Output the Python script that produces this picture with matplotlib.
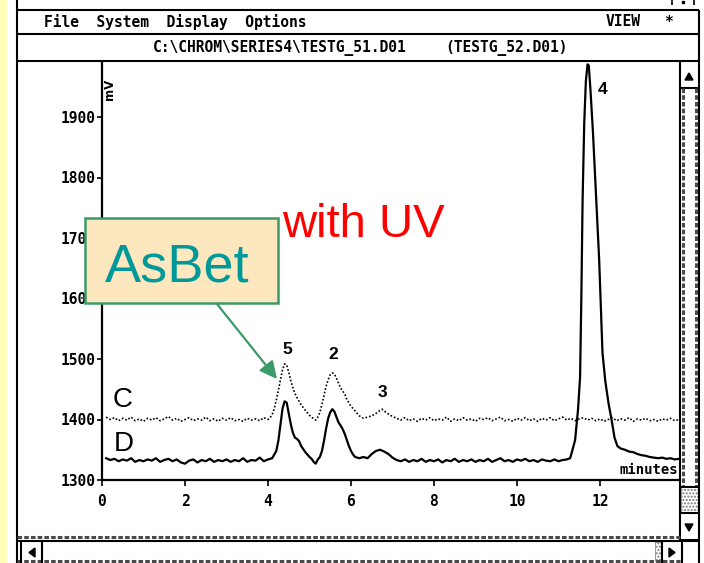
import matplotlib.pyplot as plt
from matplotlib.patches import Rectangle, Polygon, FancyArrowPatch

# ---------------- data ----------------
c_time = [0.10, 0.20, 0.30, 0.40, 0.50, 0.60, 0.70, 0.80, 0.90, 1.00,
          1.10, 1.20, 1.30, 1.40, 1.50, 1.60, 1.70, 1.80, 1.90, 2.00,
          2.10, 2.20, 2.30, 2.40, 2.50, 2.60, 2.70, 2.80, 2.90, 3.00,
          3.10, 3.20, 3.30, 3.40, 3.50, 3.60, 3.70, 3.80, 3.90, 4.00,
          4.05, 4.10, 4.15, 4.20, 4.25, 4.30, 4.35, 4.40, 4.45, 4.50,
          4.55, 4.60, 4.65, 4.70, 4.80, 4.90, 5.00, 5.10, 5.15, 5.20,
          5.25, 5.30, 5.35, 5.40, 5.45, 5.50, 5.55, 5.60, 5.65, 5.70,
          5.75, 5.80, 5.85, 5.90, 6.00, 6.10, 6.20, 6.30, 6.40, 6.50,
          6.60, 6.70, 6.75, 6.80, 6.90, 7.00, 7.10, 7.20, 7.30, 7.40,
          7.50, 7.60, 7.70, 7.80, 7.90, 8.00, 8.10, 8.20, 8.30, 8.40,
          8.50, 8.60, 8.70, 8.80, 8.90, 9.00, 9.10, 9.20, 9.30, 9.40,
          9.50, 9.60, 9.70, 9.80, 9.90, 10.00, 10.10, 10.20, 10.30, 10.40,
          10.50, 10.60, 10.70, 10.80, 10.90, 11.00, 11.10, 11.20, 11.30, 11.40,
          11.50, 11.60, 11.70, 11.80, 11.90, 12.00, 12.10, 12.20, 12.30, 12.40,
          12.50, 12.60, 12.70, 12.80, 12.90, 13.00, 13.10, 13.20, 13.30, 13.40,
          13.50, 13.60, 13.70, 13.80, 13.90]
c_mv = [1404, 1400, 1403, 1398, 1402, 1399, 1404, 1398, 1401, 1397,
        1402, 1399, 1403, 1398, 1401, 1405, 1399, 1402, 1397, 1400,
        1403, 1398, 1401, 1399, 1404, 1398, 1401, 1397, 1402, 1399,
        1403, 1398, 1400, 1397, 1402, 1399, 1401, 1398, 1403, 1400,
        1403, 1408, 1418, 1432, 1448, 1466, 1482, 1492, 1490, 1478,
        1464, 1452, 1443, 1436, 1424, 1415, 1407, 1401, 1399, 1404,
        1412, 1425, 1440, 1455, 1466, 1474, 1477, 1475, 1468, 1460,
        1452, 1447, 1442, 1433, 1422, 1414, 1406, 1402, 1404, 1406,
        1410, 1415, 1417, 1414, 1409, 1405, 1402, 1399, 1403, 1398,
        1401, 1397, 1402, 1399, 1403, 1398, 1401, 1399, 1404, 1397,
        1401, 1398, 1403, 1399, 1401, 1397, 1402, 1400, 1403, 1398,
        1401, 1404, 1398, 1400, 1397, 1402, 1399, 1403, 1398, 1401,
        1397, 1402, 1399, 1403, 1398, 1401, 1404, 1399, 1402, 1398,
        1401, 1403, 1399, 1402, 1398, 1401, 1397, 1400, 1403, 1398,
        1401, 1399, 1403, 1397, 1401, 1399, 1402, 1398, 1400, 1397,
        1401, 1399, 1402, 1398, 1400]

d_time = [0.10, 0.20, 0.30, 0.40, 0.50, 0.60, 0.70, 0.80, 0.90, 1.00,
          1.10, 1.20, 1.30, 1.40, 1.50, 1.60, 1.70, 1.80, 1.90, 2.00,
          2.10, 2.20, 2.30, 2.40, 2.50, 2.60, 2.70, 2.80, 2.90, 3.00,
          3.10, 3.20, 3.30, 3.40, 3.50, 3.60, 3.70, 3.80, 3.90, 4.00,
          4.10, 4.20, 4.25, 4.30, 4.35, 4.40, 4.45, 4.50, 4.55, 4.60,
          4.65, 4.70, 4.75, 4.80, 4.90, 5.00, 5.05, 5.10, 5.15, 5.20,
          5.25, 5.30, 5.35, 5.40, 5.45, 5.50, 5.55, 5.60, 5.65, 5.70,
          5.75, 5.80, 5.85, 5.90, 5.95, 6.00, 6.05, 6.10, 6.20, 6.30,
          6.40, 6.50, 6.60, 6.70, 6.80, 6.90, 7.00, 7.10, 7.20, 7.30,
          7.40, 7.50, 7.60, 7.70, 7.80, 7.90, 8.00, 8.10, 8.20, 8.30,
          8.40, 8.50, 8.60, 8.70, 8.80, 8.90, 9.00, 9.10, 9.20, 9.30,
          9.40, 9.50, 9.60, 9.70, 9.80, 9.90, 10.00, 10.10, 10.20, 10.30,
          10.40, 10.50, 10.60, 10.70, 10.80, 10.90, 11.00, 11.10, 11.20, 11.28,
          11.33, 11.40, 11.47, 11.52, 11.55, 11.58, 11.62, 11.66, 11.70, 11.73,
          11.77, 11.83, 11.90, 11.98, 12.06, 12.13, 12.21, 12.29, 12.35, 12.42,
          12.50, 12.60, 12.70, 12.80, 12.90, 13.00, 13.10, 13.20, 13.30, 13.40,
          13.50, 13.60, 13.70, 13.80, 13.90]
d_mv = [1336, 1333, 1335, 1331, 1334, 1332, 1336, 1330, 1333, 1331,
        1334, 1332, 1336, 1330, 1333, 1335, 1331, 1334, 1329, 1327,
        1332, 1334, 1329, 1333, 1331, 1335, 1330, 1333, 1331, 1334,
        1330, 1333, 1331, 1336, 1330, 1333, 1332, 1337, 1331, 1334,
        1336, 1348, 1365, 1392, 1418, 1430, 1428, 1410, 1392, 1378,
        1370, 1368, 1364, 1356, 1346, 1338, 1335, 1330, 1327, 1334,
        1338, 1348, 1365, 1385, 1402, 1412, 1417, 1413, 1404, 1395,
        1390, 1384, 1376, 1366, 1356, 1348, 1342, 1338, 1336, 1338,
        1336, 1343, 1348, 1350, 1347, 1343, 1337, 1333, 1331, 1334,
        1330, 1333, 1331, 1335, 1330, 1333, 1331, 1334, 1329, 1333,
        1331, 1335, 1330, 1333, 1331, 1334, 1330, 1333, 1331, 1335,
        1330, 1333, 1336, 1331, 1333, 1330, 1334, 1332, 1335, 1331,
        1333, 1330, 1334, 1332, 1331, 1334, 1331, 1333, 1334, 1336,
        1348, 1366, 1416, 1470, 1600, 1760, 1890, 1960, 1987, 1985,
        1945, 1875, 1778, 1664, 1510, 1462, 1425, 1395, 1370, 1356,
        1352, 1350, 1347, 1346, 1343, 1341, 1340, 1338, 1337, 1336,
        1337, 1335, 1336, 1334, 1335]

x_ticks = [0, 2, 4, 6, 8, 10, 12]
y_ticks = [1300, 1400, 1500, 1600, 1700, 1800, 1900]
peak_names = ['5', '2', '3', '4']
peak_time = [4.46, 5.57, 6.75, 12.05]
peak_mv = [1516, 1507, 1445, 1945]
#-----------------------------

W, H = 704, 563
mono = 'DejaVu Sans Mono'
sans = 'Liberation Sans'
grey = '#4a4a4a'

fig = plt.figure(figsize=(W / 100, H / 100), dpi=100)
fig.patch.set_facecolor('white')

# window chrome, drawn in pixel coordinates
bg = fig.add_axes([0, 0, 1, 1], zorder=0)
bg.set_xlim(0, W)
bg.set_ylim(H, 0)
bg.axis('off')


def line(x0, y0, x1, y1, lw=1.5, color='black', ls='-'):
    bg.plot([x0, x1], [y0, y1], color=color, lw=lw, ls=ls, solid_capstyle='butt')


bg.add_patch(Rectangle((0, 0), 7, H, color='#FFFFB8', lw=0))
line(17, 0, 17, H)
line(699, 10, 699, H)
line(17, 10, 699, 10)
line(17, 34, 699, 34)
line(17, 61, 699, 61)
line(672, 0, 672, 5, lw=1.2)
line(694, 0, 694, 5, lw=1.2)
bg.plot([683], [2], marker='s', ms=2, color='black')

bg.text(44, 22, 'File  System  Display  Options', family=mono, weight='bold',
        fontsize=10.5, va='center', ha='left')
bg.text(606, 22, 'VIEW', family=mono, weight='bold', fontsize=10.5, va='center', ha='left')
bg.text(669, 22, '*', family=mono, weight='bold', fontsize=10.5, va='center', ha='center')
bg.text(153, 48, r'C:\CHROM\SERIES4\TESTG_51.D01', family=mono, weight='bold',
        fontsize=10.5, va='center', ha='left')
bg.text(445, 48, '(TESTG_52.D01)', family=mono, weight='bold',
        fontsize=10.5, va='center', ha='left')

# vertical scrollbar
line(680, 61, 680, 541)
line(680, 88, 699, 88)
bg.add_patch(Polygon([[685, 80], [693, 80], [689, 73]], color='black'))
line(683, 88, 683, 487, lw=2.2, color=grey, ls=(0, (1.5, 0.7)))
line(696, 88, 696, 487, lw=2.2, color=grey, ls=(0, (1.5, 0.7)))
bg.add_patch(Rectangle((681, 487), 17, 26, facecolor='white', edgecolor='#777777',
                       hatch='.....', lw=0.5))
line(680, 487, 699, 487)
line(680, 513, 699, 513)
bg.add_patch(Polygon([[685, 524], [693, 524], [689, 531]], color='black'))
line(680, 540, 699, 540)

# horizontal scrollbar
line(17, 537, 680, 537, lw=2.2, color=grey, ls=(0, (1.5, 0.7)))
line(17, 541, 699, 541, lw=1.5)
line(17, 561, 680, 561, lw=2.2, color=grey, ls=(0, (1.5, 0.7)))
line(21, 541, 21, H)
line(42, 541, 42, H)
bg.add_patch(Polygon([[35, 548], [35, 557], [29, 552.5]], color='black'))
bg.add_patch(Rectangle((655, 542), 7, 19, facecolor='white', edgecolor='#777777',
                       hatch='.....', lw=0.5))
line(662, 541, 662, H)
line(682, 541, 682, H)
bg.add_patch(Polygon([[669, 548], [669, 557], [675, 552.5]], color='black'))

# ---------------- chromatogram ----------------
ax = fig.add_axes([102 / W, 1 - 480 / H, (680 - 102) / W, (480 - 62) / H], zorder=1)
ax.patch.set_alpha(0)

ax.plot(c_time, c_mv, color='black', lw=1.2, ls=(0, (1, 1.2)))
ax.plot(d_time, d_mv, color='black', lw=1.6)

ax.set_xlim(0, (680 - 102) / 41.5)
ax.set_ylim(1300, 1300 + 418 / 60.5 * 100)
ax.set_xticks(x_ticks)
ax.set_yticks(y_ticks)
for s in ['top', 'right']:
    ax.spines[s].set_visible(False)
ax.spines['left'].set_linewidth(1.6)
ax.spines['bottom'].set_linewidth(1.6)
ax.tick_params(axis='x', direction='out', length=4, width=1.2, pad=6, labelsize=10.5)
ax.tick_params(axis='y', direction='out', length=3.5, width=1.2, pad=1, labelsize=10.5)
for lab in ax.get_xticklabels() + ax.get_yticklabels():
    lab.set_family(mono)
    lab.set_weight('bold')

for name, t, v in zip(peak_names, peak_time, peak_mv):
    ax.text(t, v, name, family=sans, weight='bold', fontsize=12.5, ha='center', va='center')

# ---------------- overlay annotations ----------------
fg = fig.add_axes([0, 0, 1, 1], zorder=2)
fg.set_xlim(0, W)
fg.set_ylim(H, 0)
fg.axis('off')

fg.text(110, 89, 'mV', family='DejaVu Sans', weight='bold', fontsize=8.5, rotation=90,
        ha='center', va='center')
fg.text(649, 470, 'minutes', family=mono, weight='bold', fontsize=10, ha='center', va='center')
fg.text(123, 400, 'C', family=sans, fontsize=20, ha='center', va='center')
fg.text(124, 444, 'D', family=sans, fontsize=20, ha='center', va='center')

fg.text(282, 237, 'with UV', family=sans, fontsize=34, color='#FF0000', ha='left', va='baseline')

fg.add_patch(Rectangle((85, 218), 193, 85, facecolor='#FDE7BF', edgecolor='#3A9A68', lw=1.8))
fg.text(105, 282, 'AsBet', family=sans, fontsize=39, color='#00999A', ha='left', va='baseline')
fg.add_patch(FancyArrowPatch((217, 304), (277, 379), arrowstyle='-|>,head_length=8,head_width=4',
                             mutation_scale=1.3, color='#3A9A68', lw=1.6, shrinkA=0, shrinkB=0))

plt.savefig('out.png', dpi=100)
